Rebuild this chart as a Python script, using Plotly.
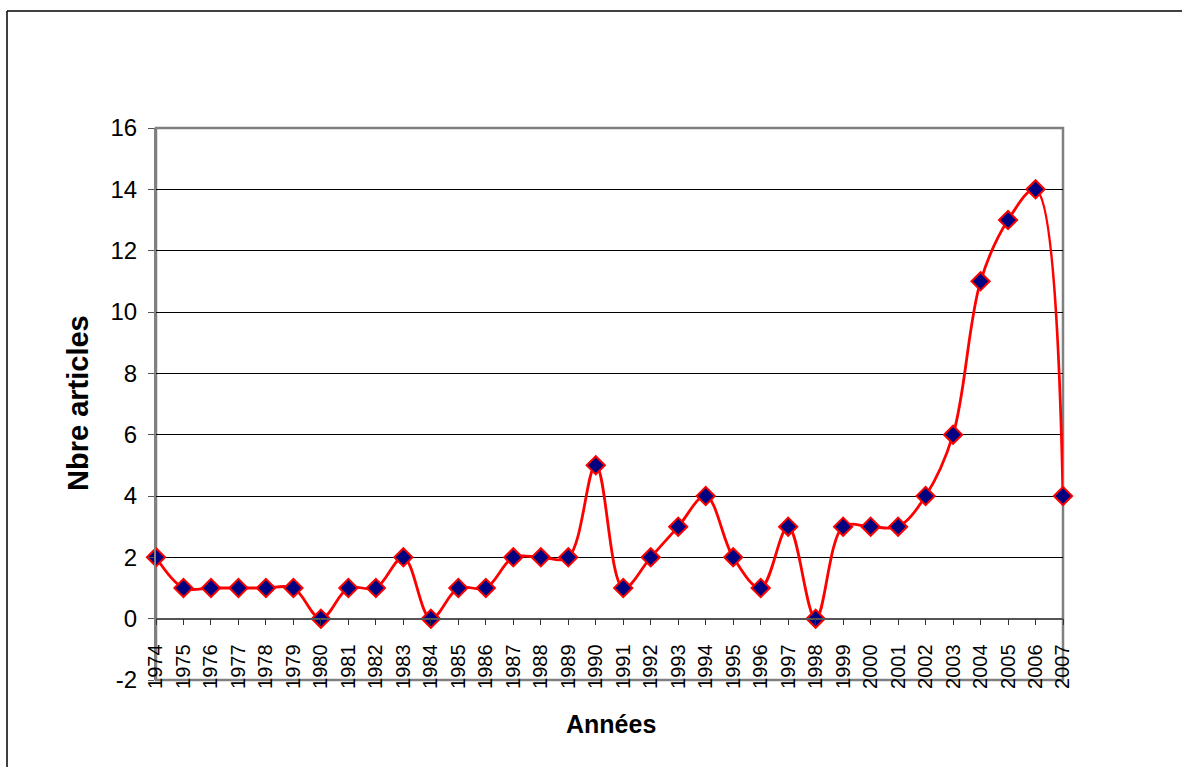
import plotly.graph_objects as go

years = list(range(1974, 2008))
articles = [2, 1, 1, 1, 1, 1, 0, 1, 1, 2, 0, 1, 1, 2, 2, 2, 5, 1, 2, 3, 4, 2, 1, 3, 0, 3, 3, 3, 4, 6, 11, 13, 14, 4]
y_ticks = [-2, 0, 2, 4, 6, 8, 10, 12, 14, 16]
y_tick_labels = ["-2", "0", "2", "4", "6", "8", "10", "12", "14", "16"]
grid_vals = [2, 4, 6, 8, 10, 12, 14]
x_title = "Années"
y_title = "Nbre articles"

FONT = "Liberation Sans, Arial, sans-serif"

fig = go.Figure()
fig.add_trace(go.Scatter(
    x=years, y=articles, mode="lines+markers",
    line=dict(color="#FF0000", width=2.8, shape="spline", smoothing=1),
    marker=dict(symbol="diamond", size=14, color="#000080",
                line=dict(color="#FF0000", width=2)),
    cliponaxis=False, showlegend=False,
))

W, H = 1182, 767
L, R, T, B = 156, 1063, 128, 680
fig.update_layout(
    width=W, height=H,
    margin=dict(l=L, r=W - R, t=T, b=H - B, autoexpand=False),
    paper_bgcolor="white", plot_bgcolor="white",
    font=dict(family=FONT, color="black"),
    xaxis=dict(
        range=[1974, 2007], tickvals=years, ticktext=[str(y) for y in years],
        tickangle=-90, tickfont=dict(size=20, family=FONT),
        showgrid=False, zeroline=False, automargin=False,
        showline=True, linecolor="#555555", linewidth=1.5,
        ticks="outside", ticklen=6, tickcolor="#333333", tickwidth=1,
        anchor="free", position=2 / 18, ticklabelstandoff=11,
    ),
    yaxis=dict(
        range=[-2, 16], tickvals=y_ticks, ticktext=y_tick_labels,
        tickfont=dict(size=24, family=FONT),
        showgrid=False, zeroline=False, automargin=False,
        showline=True, linecolor="#808080", linewidth=2,
        ticks="outside", ticklen=6, tickcolor="#555555", tickwidth=1,
        ticklabelstandoff=6,
        minor=dict(tickvals=grid_vals, showgrid=True, gridcolor="black",
                   gridwidth=1, ticks=""),
    ),
)

# plot-area border (gray)
fig.add_shape(type="rect", xref="paper", yref="paper", x0=0, x1=1, y0=0, y1=1,
              line=dict(color="#808080", width=2.5), layer="below")
# outer chart border (left and top only visible)
xl = (7 - L) / (R - L)
yt = (B - 11) / (B - T)
fig.add_shape(type="line", xref="paper", yref="paper",
              x0=xl, x1=xl, y0=yt, y1=(B - 800) / (B - T),
              line=dict(color="black", width=1.5))
fig.add_shape(type="line", xref="paper", yref="paper",
              x0=xl, x1=(1200 - L) / (R - L), y0=yt, y1=yt,
              line=dict(color="black", width=1.5))

fig.add_annotation(text="<b>" + x_title + "</b>", xref="paper", yref="paper",
                   x=(611 - L) / (R - L), y=(B - 724) / (B - T),
                   showarrow=False, font=dict(size=25, family=FONT),
                   xanchor="center", yanchor="middle")
fig.add_annotation(text="<b>" + y_title + "</b>", xref="paper", yref="paper",
                   x=(78 - L) / (R - L), y=(B - 403) / (B - T),
                   showarrow=False, font=dict(size=29, family=FONT), textangle=-90,
                   xanchor="center", yanchor="middle")

fig.write_html("out.html", config={"displayModeBar": False},
               post_script="document.body.style.margin='0';document.body.style.overflow='hidden';")
